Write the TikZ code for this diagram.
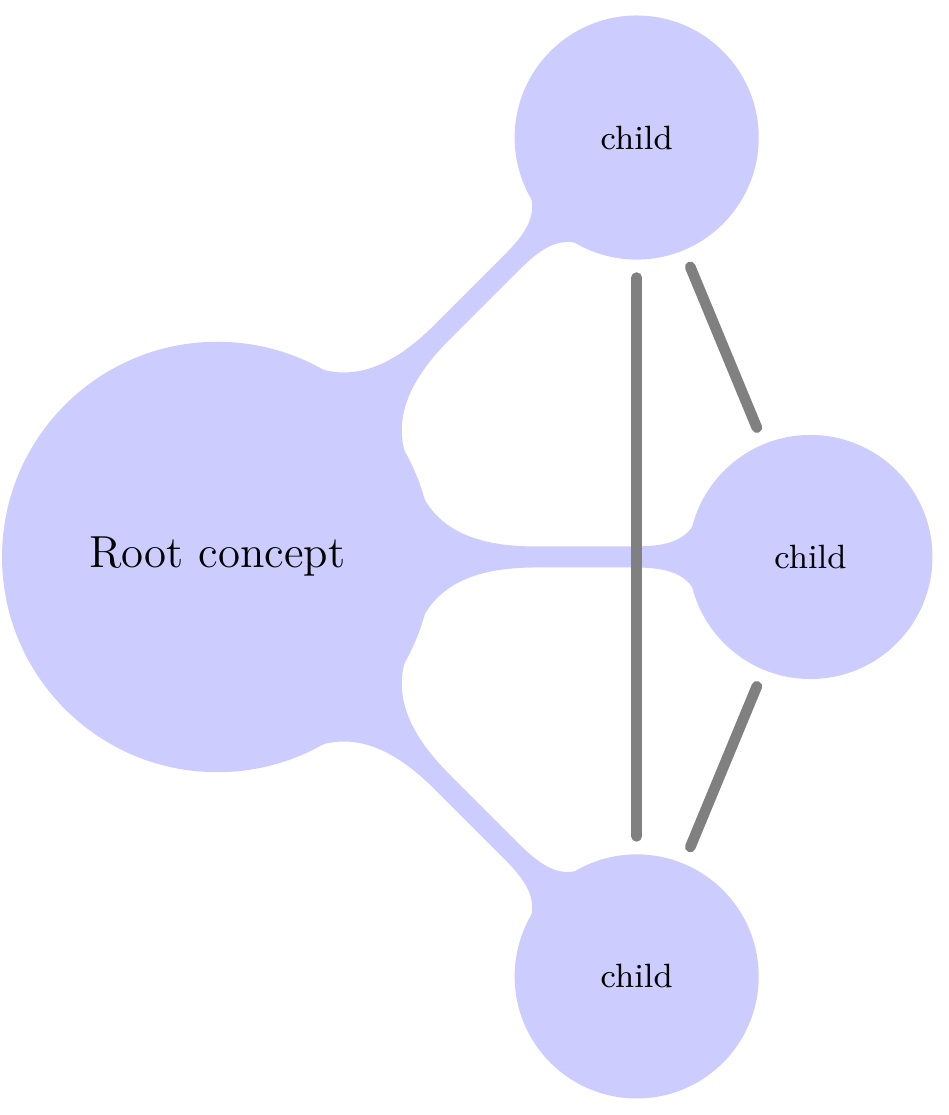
\documentclass[tikz,border=0pt]{standalone}
\usetikzlibrary{mindmap}
\begin{document}
\begin{tikzpicture}[mindmap, concept color=blue!20,
  level 1 concept/.append style={level distance=5.57cm},
  linkline/.style={gray, line width=1mm, line cap=round, shorten <=0.19cm, shorten >=0.19cm}]
\useasboundingbox (-2.04,-5.24) rectangle (6.87,5.23);
\node[concept] (r) {Root concept}
  child[grow=45] {node[concept] (c1) {child}}
  child[grow=0] {node[concept] (c2) {child}}
  child[grow=-45] {node[concept] (c3) {child}};
\draw[linkline] (c1) -- (c3);
\draw[linkline] (c1) -- (c2);
\draw[linkline] (c2) -- (c3);
\end{tikzpicture}
\end{document}
